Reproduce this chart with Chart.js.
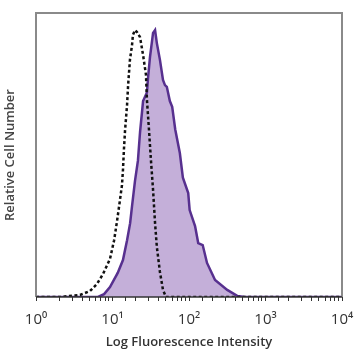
<!DOCTYPE html>
<html>
<head>
<meta charset="utf-8">
<script src="https://cdn.jsdelivr.net/npm/chart.js@4"></script>
<style>
  html, body { margin: 0; padding: 0; background: #fff; }
  #wrap { width: 358px; height: 358px; }
</style>
</head>
<body>
<div id="wrap"><canvas id="chart" width="358" height="358"></canvas></div>
<script>
// Muestra teñida (histograma relleno morado)
const stainedX = [1, 5.08, 6.46, 7.76, 9.27, 11.7, 13.7, 15.5, 17.0, 18.0, 19.7, 21.5, 22.9, 25.1, 28.2, 29.1, 30.9, 33.9, 36.0, 38.0, 41.7, 45.7, 48.5, 51.3, 56.2, 60.3, 66.1, 75.9, 83.2, 97.7, 102, 120, 132, 151, 172, 219, 316, 427, 537, 10000];
const stainedY = [0, 0, 0, 1, 3.5, 8.5, 13, 20, 26, 32, 41, 48, 58, 69, 72, 77, 84.5, 93, 94, 89.4, 83.5, 76.4, 74.6, 74, 69, 67, 59, 50.7, 42, 36.6, 30.6, 25, 19, 18.3, 12, 6, 2.5, 0.4, 0, 0];

// Control de isotipo (línea punteada negra)
const controlX = [1, 2.06, 3.76, 5.08, 6.27, 7.52, 9.27, 10.5, 11.5, 12.5, 13.3, 13.7, 14.1, 14.6, 15.5, 16.0, 16.9, 18.0, 18.5, 19.7, 20.9, 22.9, 25.1, 27.4, 28.2, 30.0, 31.8, 33.9, 36.0, 38.0, 41.7, 45.7, 50.1, 10000];
const controlY = [0, 0, 0.7, 2.1, 4.6, 8.1, 13.4, 20, 27, 34, 39.4, 44.7, 51.8, 58.8, 67.6, 74.6, 83.5, 88.7, 92.3, 94, 93.3, 91.5, 85.2, 78.2, 69.4, 58.8, 48.2, 37.7, 26, 17.6, 8.8, 2.5, 0, 0];

const tickLabels = { 1: '10⁰', 10: '10¹', 100: '10²', 1000: '10³', 10000: '10⁴' };

const toPoints = (xs, ys) => xs.map((x, i) => ({ x: x, y: ys[i] }));

// Marco gris alrededor del área del gráfico
const framePlugin = {
  id: 'frame',
  afterDatasetsDraw(chart) {
    const { ctx, chartArea: a } = chart;
    ctx.save();
    ctx.strokeStyle = '#8a8a8a';
    ctx.lineWidth = 2;
    ctx.beginPath();
    ctx.moveTo(a.left, a.bottom);
    ctx.lineTo(a.left, a.top);
    ctx.lineTo(a.right, a.top);
    ctx.lineTo(a.right, a.bottom);
    ctx.stroke();
    ctx.strokeStyle = '#333';
    ctx.lineWidth = 1.5;
    ctx.beginPath();
    ctx.moveTo(a.left, a.bottom);
    ctx.lineTo(a.right, a.bottom);
    ctx.stroke();
    ctx.restore();
  }
};

const ctx = document.getElementById('chart').getContext('2d');
new Chart(ctx, {
  type: 'line',
  data: {
    datasets: [
      {
        label: 'Control',
        data: toPoints(controlX, controlY),
        borderColor: '#111',
        borderWidth: 2.5,
        borderDash: [3, 2.5],
        pointRadius: 0,
        fill: false,
        tension: 0,
        order: 0
      },
      {
        label: 'Stained',
        data: toPoints(stainedX, stainedY),
        borderColor: '#57308f',
        backgroundColor: 'rgba(196, 175, 217, 1)',
        borderWidth: 2.5,
        pointRadius: 0,
        fill: 'origin',
        tension: 0,
        order: 1
      }
    ]
  },
  options: {
    responsive: false,
    animation: false,
    layout: { padding: { top: 13, right: 16, left: 0, bottom: 0 } },
    plugins: {
      legend: { display: false },
      tooltip: { enabled: false }
    },
    scales: {
      x: {
        type: 'logarithmic',
        min: 1,
        max: 10000,
        border: { display: false },
        grid: { drawOnChartArea: false, tickLength: 4, color: '#333', lineWidth: 1 },
        ticks: {
          autoSkip: false,
          maxRotation: 0,
          color: '#333',
          padding: 10,
          font: { family: 'Open Sans', size: 15 },
          callback: (v) => tickLabels[v] || ''
        },
        title: {
          display: true,
          text: 'Log Fluorescence Intensity',
          color: '#333',
          font: { family: 'Open Sans', size: 13, weight: '600' },
          padding: { top: 0, bottom: 8 }
        },
        afterFit: (s) => { s.height = 61; s.paddingLeft = 0; s.paddingRight = 0; }
      },
      y: {
        min: 0,
        max: 100,
        border: { display: false },
        grid: { display: false },
        ticks: { display: false },
        title: {
          display: true,
          text: 'Relative Cell Number',
          color: '#444',
          font: { family: 'Open Sans', size: 13, weight: '600' },
          padding: { top: 2, bottom: 0 }
        },
        afterFit: (s) => { s.width = 36; }
      }
    }
  },
  plugins: [framePlugin]
});
</script>
</body>
</html>
